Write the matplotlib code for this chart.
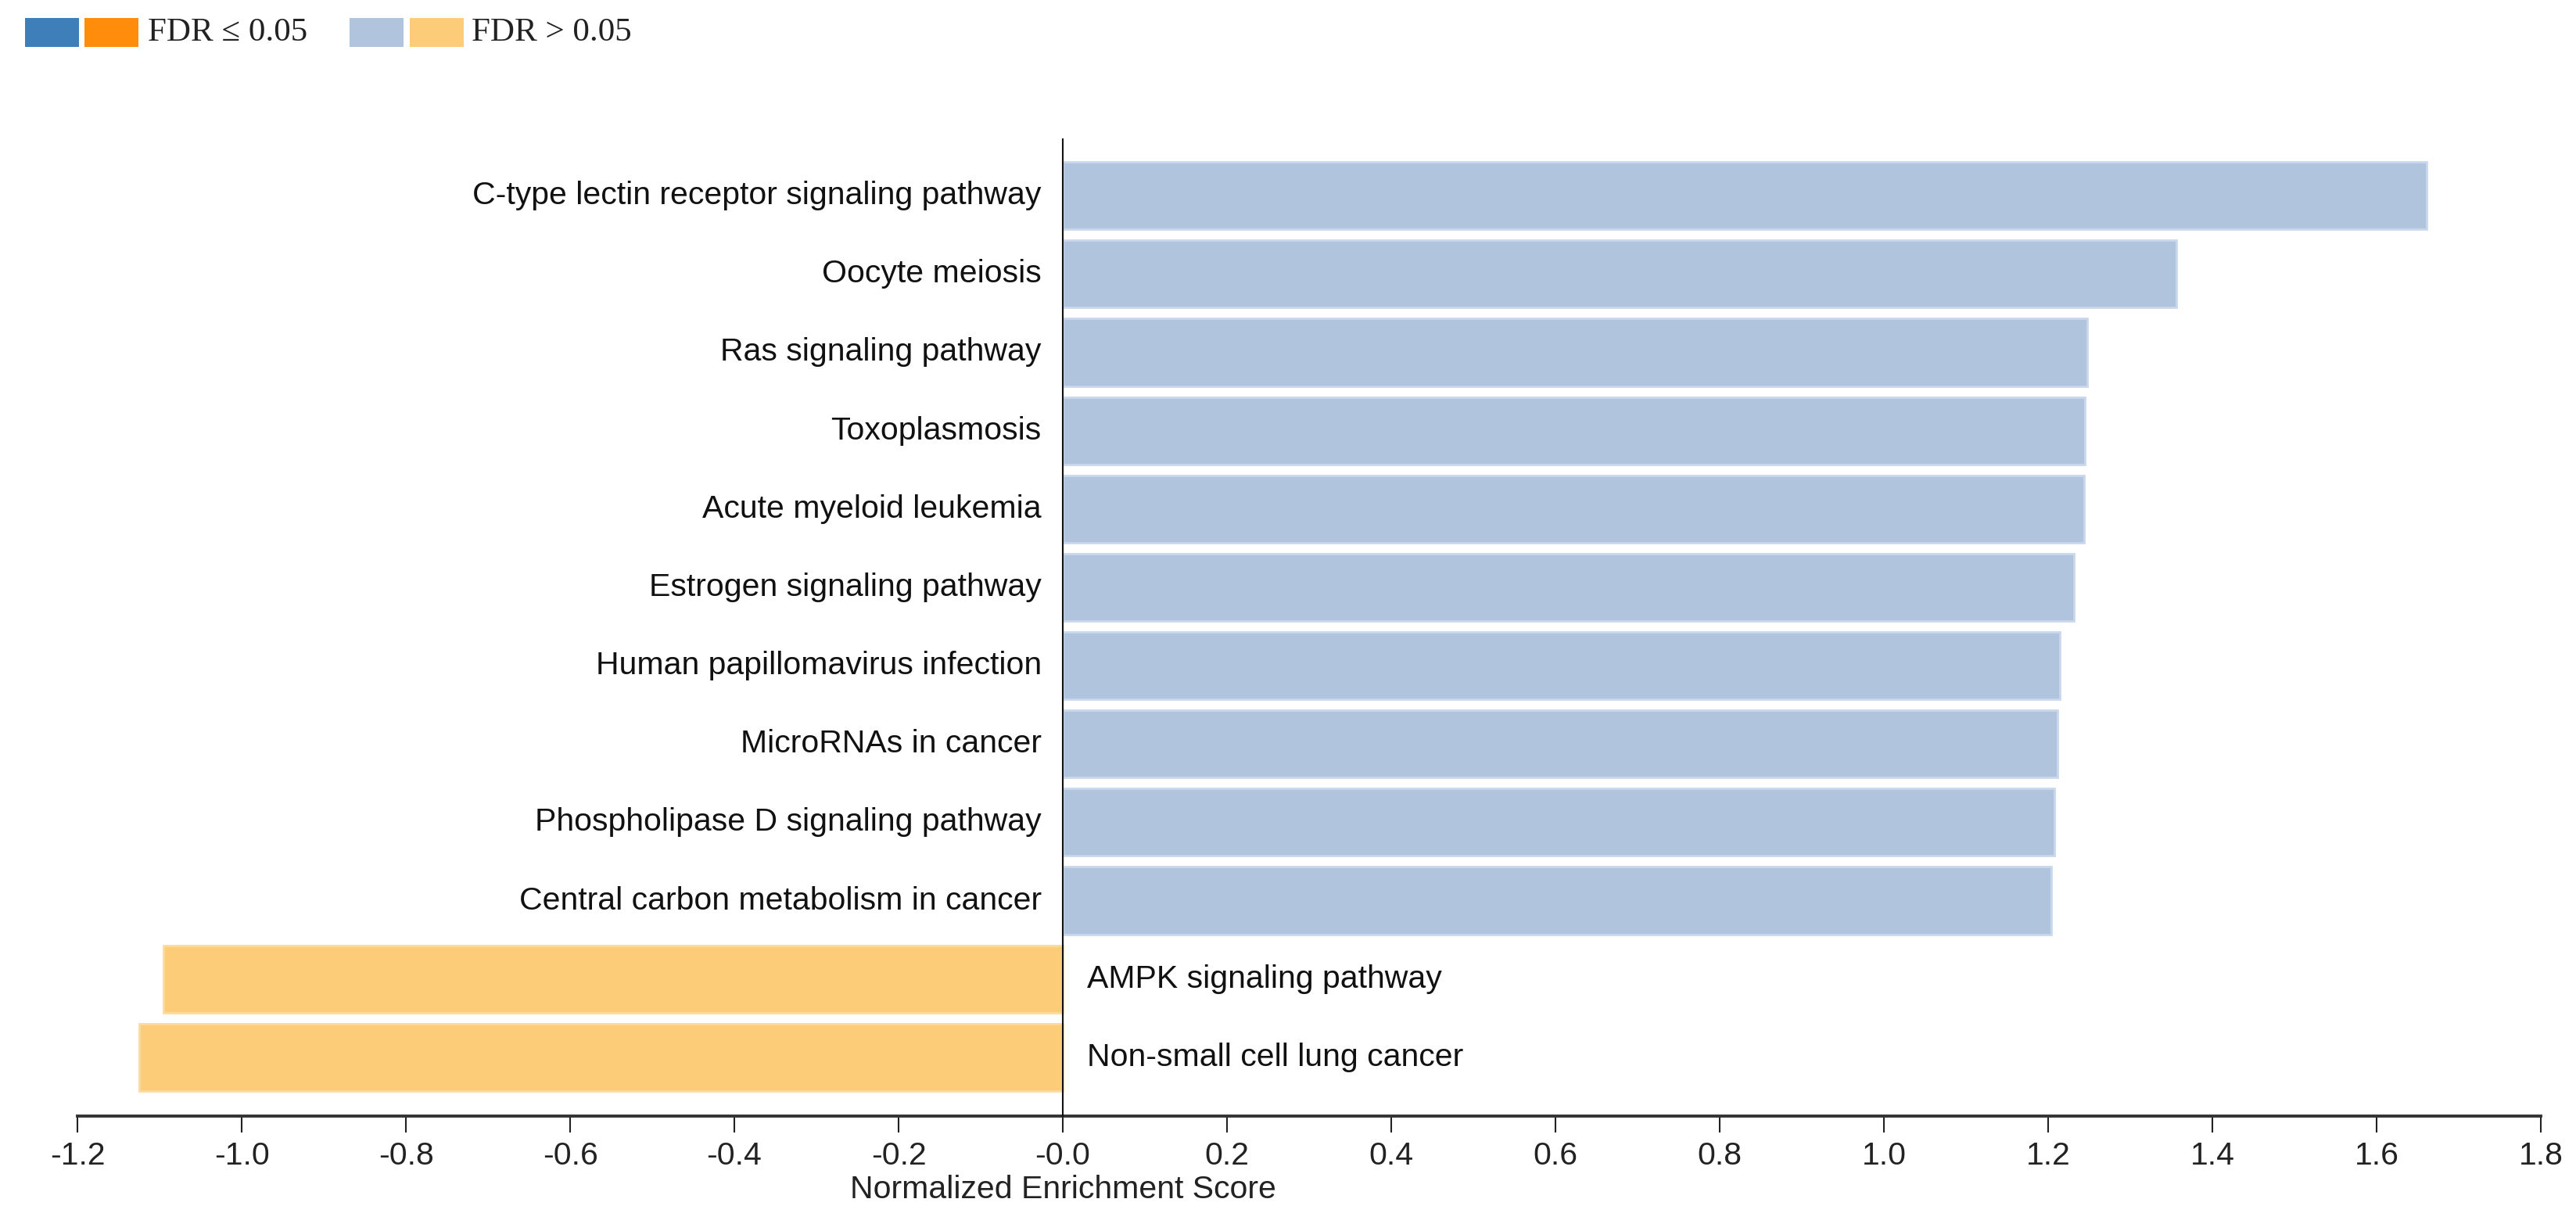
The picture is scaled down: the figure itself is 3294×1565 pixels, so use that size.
import matplotlib
matplotlib.use("Agg")
import matplotlib.pyplot as plt
import matplotlib.patches as mpatches
import numpy as np

plt.rcParams.update({
    "font.family": ["Liberation Sans", "DejaVu Sans"],
    "font.size": 29.5,
    "axes.unicode_minus": False,
})

# Data (top to bottom)
pathways = [
    "C-type lectin receptor signaling pathway",
    "Oocyte meiosis",
    "Ras signaling pathway",
    "Toxoplasmosis",
    "Acute myeloid leukemia",
    "Estrogen signaling pathway",
    "Human papillomavirus infection",
    "MicroRNAs in cancer",
    "Phospholipase D signaling pathway",
    "Central carbon metabolism in cancer",
    "AMPK signaling pathway",
    "Non-small cell lung cancer",
]
nes = [1.661, 1.356, 1.248, 1.245, 1.244, 1.231, 1.214, 1.211, 1.208, 1.204,
       -1.095, -1.125]
fdr_significant = [False] * 12

xticks = np.round(np.arange(-1.2, 1.81, 0.2), 1)
xtick_labels = [f"{t:.1f}" for t in xticks]

COL_POS_SIG = "#3F7FB9"
COL_NEG_SIG = "#FF8C0A"
COL_POS = "#B0C4DE"
COL_NEG = "#FDCC78"
EDGE_POS = "#C9D8EC"
EDGE_NEG = "#FFDA99"

fig = plt.figure(figsize=(32.94, 15.65), dpi=100)
ax = fig.add_axes([99 / 3294, 1 - 1427 / 1565, (3249 - 99) / 3294, (1427 - 178) / 1565])

y = np.arange(len(pathways))
colors, edges = [], []
for v, sig in zip(nes, fdr_significant):
    if v >= 0:
        colors.append(COL_POS_SIG if sig else COL_POS)
        edges.append(EDGE_POS)
    else:
        colors.append(COL_NEG_SIG if sig else COL_NEG)
        edges.append(EDGE_NEG)

ax.barh(y, nes, height=0.86, color=colors, edgecolor=edges, linewidth=2, zorder=2)

for yi, v, name in zip(y, nes, pathways):
    if v >= 0:
        ax.text(-0.026, yi, name, ha="right", va="center", fontsize=29.5, color="#111111")
    else:
        ax.text(0.03, yi, name, ha="left", va="center", fontsize=29.5, color="#111111")

ax.set_xlim(-1.2, 1.8)
ax.set_ylim(len(pathways) - 1 + 0.75, -0.72)
ax.set_xticks(xticks)
ax.set_xticklabels(xtick_labels)
ax.set_yticks([])

for s in ["top", "right"]:
    ax.spines[s].set_visible(False)
ax.spines["left"].set_position(("data", 0))
ax.spines["left"].set_linewidth(1.5)
ax.spines["left"].set_color("#111111")
ax.spines["left"].set_zorder(3)
ax.spines["bottom"].set_linewidth(2.8)
ax.spines["bottom"].set_color("#333333")
ax.tick_params(axis="x", direction="out", length=15, width=1.5, pad=8,
               labelsize=29.5, colors="#222222")

ax.set_xlabel("Normalized Enrichment Score", fontsize=29.5, color="#222222")
ax.xaxis.set_label_coords(0.4, -0.060)

# Legend at top-left
legend_items = [
    (32, COL_POS_SIG), (108, COL_NEG_SIG), (447, COL_POS), (524, COL_NEG),
]
for x0, c in legend_items:
    fig.patches.append(mpatches.Rectangle(
        (x0 / 3294, 1 - 60 / 1565), 69 / 3294, 37 / 1565,
        transform=fig.transFigure, facecolor=c, edgecolor="none"))
fig.text(189 / 3294, 1 - 42 / 1565, "FDR \u2264 0.05", ha="left", va="center",
         fontsize=31, family=["Liberation Serif", "DejaVu Serif"], color="#222222")
fig.text(603 / 3294, 1 - 42 / 1565, "FDR > 0.05", ha="left", va="center",
         fontsize=31, family=["Liberation Serif", "DejaVu Serif"], color="#222222")

fig.savefig("out.png", dpi=100, facecolor="white")
